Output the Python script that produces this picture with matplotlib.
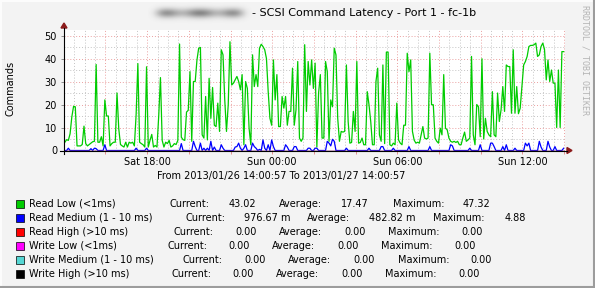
import numpy as np
import matplotlib
matplotlib.use('Agg')
import matplotlib.pyplot as plt
import matplotlib.dates as mdates
from matplotlib.lines import Line2D
from matplotlib.patches import Rectangle, Polygon
from datetime import datetime, timedelta

# 5 minute samples, one row = 2 hours
read_low = [
    3.6, 4.7, 4.4, 7.3, 14.6, 19.2, 19, 2, 2, 2, 2.6, 10.6, 3, 2, 2.6, 3.2, 3.8, 4, 37.4, 3.6, 3.6, 6, 2, 22,
    15, 15, 2, 3, 3.6, 3.6, 25, 9.5, 2.6, 2, 1.5, 3.6, 1.5, 3.6, 3.2, 3.6, 2, 15.6, 37.8, 3.6, 3, 2.5, 1.5, 36.4,
    1.5, 4.4, 7, 1.5, 2.2, 1.5, 15, 31.7, 4.4, 1.5, 3.6, 3, 4.4, 1.5, 2, 3, 2.6, 4.4, 46.3, 5.8, 4.7, 4.4, 16.7, 17.5,
    34.3, 4, 30, 30, 39.3, 44.5, 44.8, 6.8, 5.4, 23.5, 4.6, 31.4, 14, 27.4, 11, 10.4, 20.6, 8.3, 43.8, 41.6, 22, 8.3, 19.9, 47.3,
    28.5, 29.3, 30.7, 32.2, 30, 26.4, 33, 2.5, 30, 27, 9.7, 2.5, 41.6, 27.8, 33, 27.8, 44.5, 46.2, 45.2, 43.8, 40, 25.6, 14, 11,
    39.4, 22, 33, 10.4, 10.4, 23.5, 18.4, 23.5, 11, 17, 17, 35.8, 11, 17.7, 38.7, 5.4, 4, 5.4, 46, 17, 38.7, 28.5, 39.4, 27,
    38, 1.5, 25, 33, 5.4, 5.4, 38.7, 34.3, 4, 22, 19, 44.5, 41.6, 14, 4, 8.3, 8, 8.3, 37.2, 12.6, 3.2, 3.5, 17, 8.3,
    38.7, 3.2, 3.5, 5.4, 2.5, 2.5, 25.6, 19.9, 12.6, 2.5, 2.5, 30, 35.8, 6.8, 4, 37.2, 3, 42.8, 42.8, 2.5, 2, 3.2, 2.5, 20.6,
    4.6, 3.2, 2.5, 11, 11, 42.3, 34.3, 39.4, 8.3, 4.5, 3.2, 3.6, 3.2, 6.8, 10.4, 5.4, 5, 5.4, 42.3, 19.9, 19.9, 5.4, 4, 3.2,
    9.7, 6.8, 33, 9.7, 9, 5.4, 4, 3.6, 4, 3.5, 4, 2.5, 2.5, 5.4, 8, 4, 4.6, 5.4, 40.9, 6.8, 2.5, 20, 19, 6,
    39.9, 5, 14, 8.3, 6.8, 6, 25.6, 6.8, 6, 25, 12.6, 17.7, 27.8, 17, 37.2, 36.5, 36.5, 16.2, 43.8, 16.2, 27.8, 16, 18.4, 27.8,
    37.2, 38.7, 40.9, 45.2, 45.7, 45.7, 46, 46.7, 40.9, 41.6, 45.2, 46.7, 44, 30.7, 39.4, 30, 35, 29.3, 29.3, 10, 35, 10, 43, 43,
]
read_medium = [
    0, 0, 1, 0, 0, 0, 0, 0, 0, 0, 0, 0, 0, 0, 0, 0.8, 0, 1, 0.8, 0, 0, 0, 0, 2.5,
    0, 0, 0, 0, 0, 0, 0, 0, 0, 0, 0, 0, 0, 0, 0, 0, 0, 1, 0, 0, 0, 0, 0, 1,
    0, 0, 0, 0, 0, 0, 0, 0, 0, 0, 0, 0, 0, 0, 0, 0, 0, 0, 0, 3, 0, 0, 0, 0,
    0, 0, 4, 1.7, 0, 0, 3.2, 0, 1, 0, 1, 0, 4, 0, 1.5, 0, 0, 0, 2.5, 1, 0, 0, 0, 0,
    0, 0, 1.5, 1.7, 3.2, 1, 0, 1, 2.5, 0, 0, 0, 3.2, 1.7, 1, 0, 0.5, 0, 4.6, 1, 0, 2.5, 0, 4.6,
    1.7, 0, 0, 0, 0, 0, 0, 2.5, 1.5, 0, 0, 0, 1.7, 1.7, 0, 0, 0, 0, 0, 0, 1, 1, 0, 0,
    1, 1, 0, 0, 0, 0, 0, 4, 3.2, 2, 4.88, 4, 0, 0, 0, 0, 0, 0, 1, 0, 0, 0, 0, 0,
    0, 0, 0, 0, 0, 0, 0, 1, 0, 0, 0, 0, 0, 0, 1.7, 1.7, 0, 0, 0, 0, 0, 1, 0, 0,
    0, 0, 0, 0, 0, 0, 1.7, 0, 0, 0, 0, 0, 0, 0, 0, 0, 0, 0, 1.7, 0, 0, 0, 0, 0,
    0, 0, 0, 0, 0, 0, 2.5, 2, 0, 0, 0, 0, 0, 0, 0, 0, 0, 1, 0, 0, 0, 0, 0, 2.5,
    0, 0, 0, 0, 0, 3.2, 3.2, 1.7, 0, 0, 0, 0, 1.7, 0, 2.5, 0, 0, 0, 0, 1, 0, 0, 0, 0,
    0, 3.2, 2, 3.2, 0, 0, 0, 0, 0, 4, 1.5, 0, 0, 0, 4, 1.5, 0, 0, 1.7, 0, 0, 0, 0, 0.98,
]
read_high = [0.0] * 288
write_low = [0.0] * 288
write_medium = [0.0] * 288
write_high = [0.0] * 288

series_names = ['Read Low (<1ms)', 'Read Medium (1 - 10 ms)', 'Read High (>10 ms)',
                'Write Low (<1ms)', 'Write Medium (1 - 10 ms)', 'Write High (>10 ms)']
series_colors = ['#00cc00', '#0000ff', '#ff0000', '#ff00ff', '#55d6d3', '#000000']
cur_text = ['43.02', '976.67 m', '0.00', '0.00', '0.00', '0.00']
avg_text = ['17.47', '482.82 m', '0.00', '0.00', '0.00', '0.00']
max_text = ['47.32', '4.88', '0.00', '0.00', '0.00', '0.00']

start = datetime(2013, 1, 26, 14, 0, 57)
end = datetime(2013, 1, 27, 14, 0, 57)
times = [start + timedelta(minutes=5 * (i + 0.5)) for i in range(288)]

W, H = 595, 288
plt.rcParams['font.family'] = 'DejaVu Sans'
fig = plt.figure(figsize=(W / 100, H / 100), dpi=100, facecolor='#f3f3f3')

def fx(px):
    return px / W

def fy(py):
    return 1 - py / H

x0, x1, ybase, ytop = 64, 564.5, 150.5, 30
ax = fig.add_axes([fx(x0), fy(ybase), (x1 - x0) / W, (ybase - ytop) / H])
ax.set_facecolor('white')
ax.set_xlim(start, end)
ax.set_ylim(0, 52.4)
for s in ax.spines.values():
    s.set_visible(False)

# grid
dot = (0, (1, 2))
t = datetime(2013, 1, 26, 14, 30)
while t < end:
    if t.minute == 0 and t.hour % 2 == 0:
        ax.axvline(t, color='#eaa0a0', lw=0.7, ls=dot, zorder=1)
    else:
        ax.axvline(t, color='#c4c4c4', lw=0.7, ls=dot, zorder=1)
    t += timedelta(minutes=30)
for v in range(5, 55, 5):
    c = '#eaa0a0' if v % 10 == 0 else '#c4c4c4'
    ax.axhline(v, color=c, lw=0.7, ls=dot, zorder=1)

data = [read_low, read_medium, read_high, write_low, write_medium, write_high]
for vals, col in zip(data, series_colors):
    ax.plot(times, vals, color=col, lw=0.9, zorder=3)

ax.xaxis.set_major_locator(mdates.HourLocator(byhour=[0, 6, 12, 18]))
ax.xaxis.set_minor_locator(mdates.HourLocator(byhour=range(0, 24, 2)))
ax.xaxis.set_major_formatter(mdates.DateFormatter('%a %H:%M'))
ax.tick_params(axis='x', which='both', length=2.5, width=0.6, color='#e08080',
               labelsize=7, pad=2.5)
ax.set_yticks(range(0, 51, 10))
ax.tick_params(axis='y', length=2, width=0.6, color='#808080', labelsize=7, pad=3)

# axes with arrows
fig.add_artist(Line2D([fx(60), fx(567)], [fy(ybase), fy(ybase)], color='black', lw=0.8))
fig.add_artist(Line2D([fx(x0), fx(x0)], [fy(154), fy(28)], color='black', lw=0.8))
fig.add_artist(Polygon([(fx(567), fy(147.5)), (fx(567), fy(153.5)), (fx(572), fy(ybase))],
                       closed=True, color='#8b1a1a', transform=fig.transFigure))
fig.add_artist(Polygon([(fx(61), fy(28)), (fx(67), fy(28)), (fx(x0), fy(23))],
                       closed=True, color='#8b1a1a', transform=fig.transFigure))

# blurred host name
gx = np.linspace(-1, 1, 120)
gy = np.linspace(-1, 1, 24)
GX, GY = np.meshgrid(gx, gy)
alpha = np.exp(-(GX / 0.85) ** 8) * np.exp(-(GY / 0.45) ** 2) * (0.55 + 0.15 * np.cos(GX * 9))
img = np.zeros((24, 120, 4))
img[..., :3] = 0.35
img[..., 3] = np.clip(alpha, 0, 1)
bax = fig.add_axes([fx(148), fy(24), fx(104), 22 / H])
bax.imshow(img, aspect='auto', interpolation='bilinear')
bax.axis('off')

fig.text(fx(252), fy(12.5), '- SCSI Command Latency - Port 1 - fc-1b', fontsize=8,
         ha='left', va='center')
fig.text(fx(11), fy(88), 'Commands', rotation=90, fontsize=7, ha='center', va='center')
fig.text(fx(585), fy(60), 'RRDTOOL / TOBI OETIKER', rotation=270, fontsize=6,
         family='DejaVu Sans Mono', color='#b4b4b4', ha='center', va='center')
fig.text(fx(281), fy(176.5), 'From 2013/01/26 14:00:57 To 2013/01/27 14:00:57',
         fontsize=7, ha='center', va='center')

# legend
row_y = [204, 218, 232, 246, 260, 274]
cur_x = [(169.6, 256.5), (185.6, 290), (173.8, 256.5), (167, 249.7), (182.5, 265.7), (171.2, 253.5)]
avg_x = [(279, 368.9), (306.6, 415.6), (279, 365.5), (272.1, 358.6), (288.4, 374.6), (275.9, 362.4)]
max_x = [(392.8, 490.3), (432.6, 526.4), (388.2, 482.4), (381.4, 475.5), (397.7, 491.5), (385.2, 479.3)]
for i in range(6):
    y = row_y[i]
    fig.add_artist(Rectangle((fx(15.5), fy(y + 4.2)), 8 / W, 8 / H, facecolor=series_colors[i],
                             edgecolor='black', lw=0.5, transform=fig.transFigure))
    fig.text(fx(28.5), fy(y), series_names[i], fontsize=7, ha='left', va='center')
    for (lx, rx), lab, val in [(cur_x[i], 'Current:', cur_text[i]),
                               (avg_x[i], 'Average:', avg_text[i]),
                               (max_x[i], 'Maximum:', max_text[i])]:
        fig.text(fx(lx), fy(y), lab, fontsize=7, ha='left', va='center')
        fig.text(fx(rx), fy(y), val, fontsize=7, ha='right', va='center')

# frame
fig.add_artist(Line2D([fx(0.5), fx(594)], [fy(0.5), fy(0.5)], color='#fcfcfc', lw=1.5))
fig.add_artist(Line2D([fx(0.5), fx(0.5)], [fy(0.5), fy(287)], color='#fcfcfc', lw=1.5))
fig.add_artist(Line2D([fx(594), fx(594)], [fy(0.5), fy(287)], color='#9c9c9c', lw=1.5))
fig.add_artist(Line2D([fx(0.5), fx(594)], [fy(287), fy(287)], color='#9c9c9c', lw=1.5))

fig.savefig('out.png', dpi=100, facecolor=fig.get_facecolor())
